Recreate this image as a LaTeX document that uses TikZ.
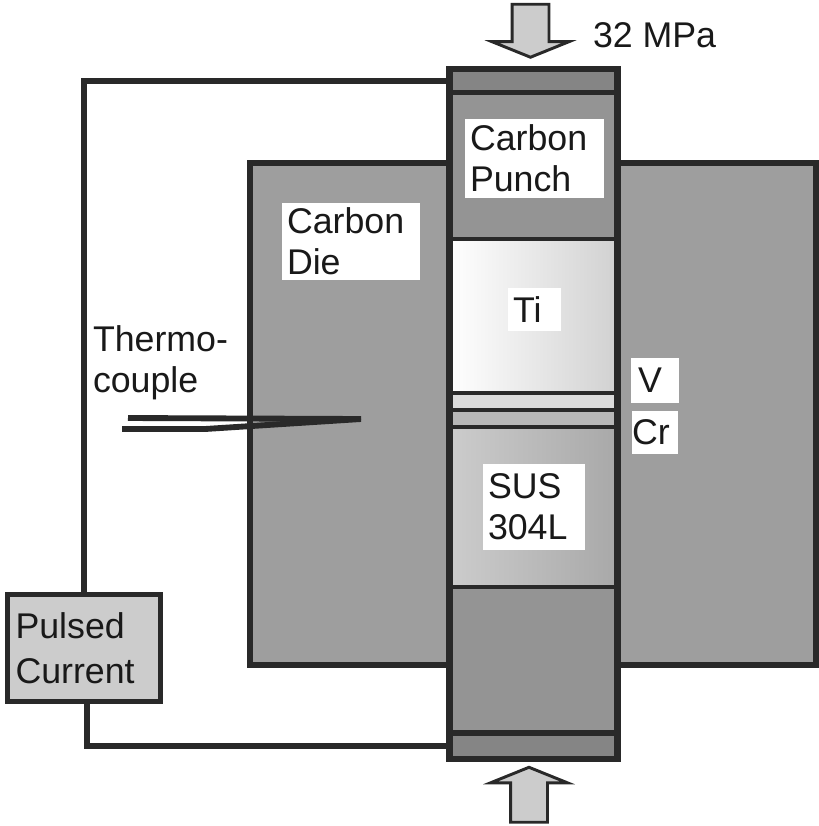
\documentclass[tikz,border=0pt]{standalone}
\usepackage{fontspec}
\setmainfont{Liberation Sans}
\usetikzlibrary{shapes.arrows}
\definecolor{ink}{gray}{0.16}
\tikzset{
    every node/.style={
        font=\fontsize{30.5}{35}\selectfont,
        text=black!90,
        inner sep=0pt,
        outer sep=0pt},
    wire/.style={
        draw=ink,
        line width=5pt},
    block/.style={
        draw=ink,
        rectangle,
        line width=#1},
    layer/.style={
        block=4pt,
        minimum width=168*0.03cm,
        minimum height=#1*0.03cm},
    tagbox/.style 2 args={
        fill=white,
        align=left,
        inner xsep=0.15cm,
        text width=(#1-10)*0.03cm,
        minimum height=#2*0.03cm},
    press/.style={
        draw=ink,
        line width=2.5pt,
        fill=black!20,
        single arrow,
        inner sep=17*0.03cm,
        minimum height=#1*0.03cm,
        single arrow head extend=20*0.03cm,
        single arrow tip angle=136}}

\begin{document}
\begin{tikzpicture}[x=0.03cm,y=-0.03cm]
        \useasboundingbox (0,0) rectangle (819,826);

        \node[block=5pt,fill=black!38,minimum width=566*0.03cm,minimum height=502*0.03cm] (die) at (533,414) {};

        \node[layer=24,fill=black!48,line width=5pt] (topcap) at (533.5,81) {};
        \node[layer=146,fill=black!42] (punch) at (533.5,166) {};
        \node[layer=154,left color=white,right color=black!18] (ti) at (533.5,316) {};
        \node[layer=17,fill=black!14,line width=2.6pt] (v) at (533.5,401.5) {};
        \node[layer=17,fill=black!28,line width=2.6pt] (cr) at (533.5,418.5) {};
        \node[layer=160,left color=black!20,right color=black!34,line width=3.6pt] (sus) at (533.5,507) {};
        \node[layer=146,fill=black!42] (lowpunch) at (533.5,660) {};
        \node[layer=26,fill=black!48,line width=5.5pt] (botcap) at (533.5,746) {};
        \node[block=5.5pt,minimum width=168*0.03cm,minimum height=690*0.03cm] (column) at (533.5,414) {};

        \node[block=5pt,fill=black!20,align=left,inner xsep=0.24cm,text width=137*0.03cm,minimum height=107*0.03cm] (pulse) at (84,648) {Pulsed\\[3pt]Current};

        \draw[wire] (pulse.north) |- (topcap.west);
        \draw[wire] ([xshift=0.08cm]pulse.south) |- (botcap.west);

        \coordinate (tctip) at (361,419);
        \coordinate (tcup) at (128,418);
        \coordinate (tclow) at (122,429);
        \coordinate (tcbend) at (205,429);
        \draw[wire] (tcup) -- (tctip);
        \draw[wire] (tclow) -- (tcbend) -- (tctip);

        \node[tagbox={139}{79}] (punchtag) at (534.5,158.5) {Carbon\\Punch};
        \node[tagbox={138}{77}] (dietag) at (351,241.5) {Carbon\\Die};
        \node[tagbox={53}{43}] (titag) at (534.5,309.5) {Ti};
        \node[tagbox={102}{86}] (sustag) at (534,507) {SUS\\304L};
        \node[tagbox={46}{45},inner xsep=0.21cm,text width=34*0.03cm] (vtag) at (655,380.5) {V};
        \node[tagbox={56}{43},inner xsep=0pt] (crtag) at (655,432.5) {Cr};

        \node[align=left,anchor=west] (thermo) at (93,363) {Thermo-\\couple};
        \node[anchor=base west] (load) at (593,47) {32 MPa};

        \node[press=53,shape border rotate=270] (pressdown) at (530.5,27) {};
        \node[press=55,shape border rotate=90] (pressup) at (529,798.5) {};
    \end{tikzpicture}
\end{document}
